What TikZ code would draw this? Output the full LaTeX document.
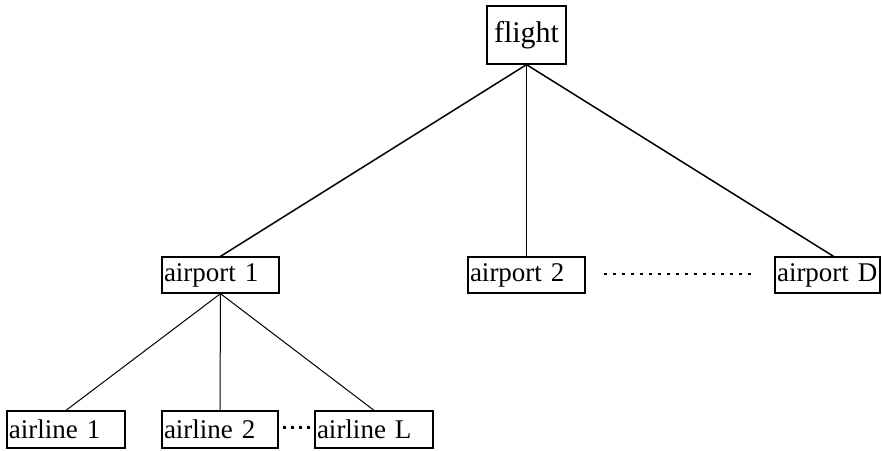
\documentclass[tikz,border=0pt]{standalone}
\usepackage{fontspec}
\setmainfont{Liberation Serif}
\begin{document}
\begin{tikzpicture}[x=1pt,y=-1pt,
  box/.style={draw, line width=1.3pt, inner xsep=2pt, inner ysep=0pt, align=left,
    font=\fontsize{27}{30}\selectfont, minimum height=36pt},
  topbox/.style={draw, line width=1.3pt, inner sep=0pt, align=center,
    font=\fontsize{30}{33}\selectfont, minimum width=79pt, minimum height=58pt},
  thick link/.style={line width=1.5pt},
  thin link/.style={line width=1pt},
  dots/.style={line width=2.2pt, dash pattern=on 3.5pt off 5.5pt}]
\useasboundingbox (0,0) rectangle (882,450);
\node[topbox] (fl) at (526.5,35) {flight};
\node[box, text width=113pt] (a1) at (220.5,275) {airport 1};
\node[box, text width=113pt] (a2) at (526.5,275) {airport 2};
\node[box, text width=101pt] (aD) at (827.5,275) {airport D};
\node[box, text width=114pt, minimum height=37pt] (l1) at (66,429.5) {airline 1};
\node[box, text width=112pt, minimum height=37pt] (l2) at (220,429.5) {airline 2};
\node[box, text width=114pt, minimum height=37pt] (lL) at (374,429.5) {airline L};
\coordinate (aDtop) at ([xshift=6pt]aD.north);
\draw[thick link] (fl.south) -- (a1.north);
\draw[thick link] (fl.south) -- (a2.north);
\draw[thick link] (fl.south) -- (aDtop);
\draw[thin link] (a1.south) -- (l1.north);
\draw[thin link] (a1.south) -- (l2.north);
\draw[thin link] (a1.south) -- (lL.north);
\draw[dots] ([xshift=18pt,yshift=1pt]a2.east) -- ([xshift=-23pt,yshift=1pt]aD.west);
\draw[dots, line width=2.2pt, dash pattern=on 3pt off 5pt] ([xshift=4pt,yshift=2pt]l2.east) -- ([xshift=-1pt,yshift=2pt]lL.west);
\end{tikzpicture}
\end{document}
